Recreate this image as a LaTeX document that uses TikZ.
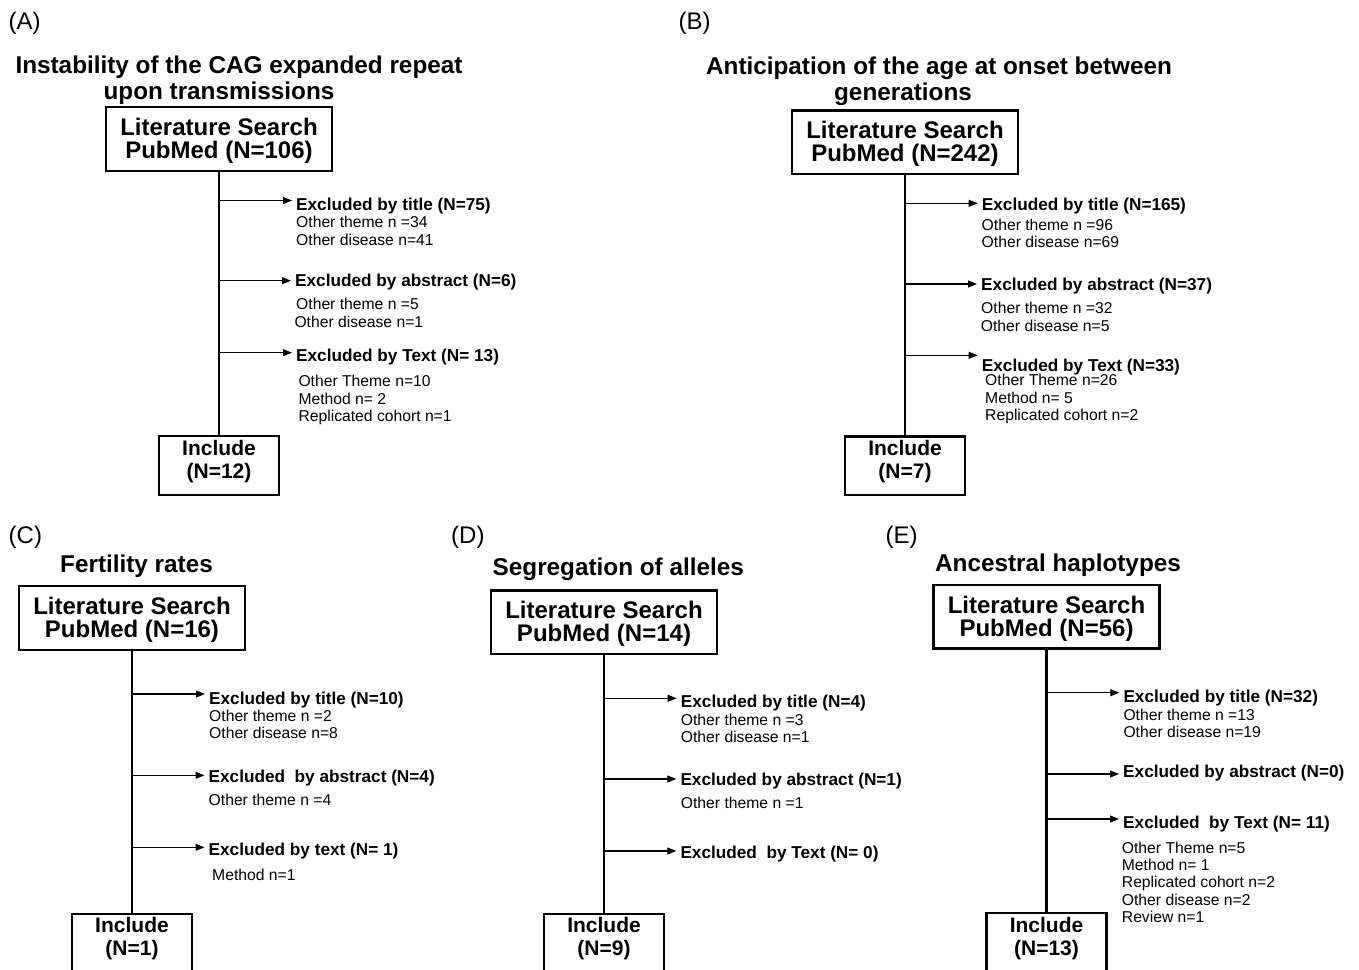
\documentclass[tikz,border=0pt]{standalone}
\usepackage{fontspec}
\setmainfont{Liberation Sans}
\usetikzlibrary{arrows.meta}
\tikzset{
 plabel/.style={anchor=base west, inner sep=0pt, font=\fontsize{24}{24}\selectfont},
 ttl/.style={anchor=base, inner sep=0pt, font=\bfseries\fontsize{24.3}{26}\selectfont},
 boxtxt/.style={anchor=base, inner sep=0pt, font=\bfseries\fontsize{24}{24}\selectfont},
 inctxt/.style={anchor=base, inner sep=0pt, font=\bfseries\fontsize{21}{21}\selectfont},
 hdr/.style={anchor=base west, inner sep=0pt, font=\bfseries\fontsize{17.2}{18}\selectfont},
 sub/.style={anchor=base west, inner sep=0pt, font=\fontsize{15.7}{16}\selectfont},
 litbox/.style={draw, line width=2.4pt, minimum width=226pt, minimum height=63.5pt, inner sep=0pt, anchor=north},
 incbox/.style={draw, line width=2.4pt, minimum width=120pt, minimum height=58.5pt, inner sep=0pt, anchor=north},
 vline/.style={line width=2.4pt},
 arr/.style={line width=1.1pt, -{Triangle[length=9pt,width=7pt]}, shorten >=4pt},
}
\begin{document}
\begin{tikzpicture}[x=1pt,y=-1pt]
\fill[white] (0,0) rectangle (1359,969);
\clip (0,0) rectangle (1359,969);

% ---------------- Panel A ----------------
\node[plabel] (labA) at (8.5,29.4) {(A)};
\node[ttl] (tA1) at (239,73.3) {Instability of the CAG expanded repeat};
\node[ttl] (tA2) at (219,99.3) {upon transmissions};
\node[litbox] (litA) at (219,106) {};
\node[boxtxt] (litA1) at (219,135.3) {Literature Search};
\node[boxtxt] (litA2) at (219,158.5) {PubMed (N=106)};
\node[incbox] (incA) at (219,435) {};
\node[inctxt] (incA1) at (219,455) {Include};
\node[inctxt] (incA2) at (219,478) {(N=12)};
\draw[vline] (litA.south) -- (incA.north);
\node[hdr] (a1h) at (296,210) {Excluded by title (N=75)};
\node[sub] (a1s1) at (296,227.5) {Other theme n =34};
\node[sub] (a1s2) at (296,245) {Other disease n=41};
\node[hdr] (a2h) at (295,286.7) {Excluded by abstract (N=6)};
\node[sub] (a2s1) at (296,309.3) {Other theme n =5};
\node[sub] (a2s2) at (294.3,327.3) {Other disease n=1};
\node[hdr] (a3h) at (296,361.7) {Excluded by Text (N= 13)};
\node[sub] (a3s1) at (298.3,386) {Other Theme n=10};
\node[sub] (a3s2) at (298.3,404) {Method n= 2};
\node[sub] (a3s3) at (298.3,421.7) {Replicated cohort n=1};
\coordinate (a1) at (219,200.5);
\coordinate (a2) at (219,280.7);
\coordinate (a3) at (219,352.7);
\draw[arr] (a1) -- (a1 -| a1h.west);
\draw[arr] (a2) -- (a2 -| a2h.west);
\draw[arr] (a3) -- (a3 -| a3h.west);

% ---------------- Panel B ----------------
\node[plabel] (labB) at (678.5,29.4) {(B)};
\node[ttl] (tB1) at (939,74.3) {Anticipation of the age at onset between};
\node[ttl] (tB2) at (903,100) {generations};
\node[litbox] (litB) at (905,109.3) {};
\node[boxtxt] (litB1) at (905,138.6) {Literature Search};
\node[boxtxt] (litB2) at (905,161.8) {PubMed (N=242)};
\node[incbox] (incB) at (905,435.3) {};
\node[inctxt] (incB1) at (905,455.5) {Include};
\node[inctxt] (incB2) at (905,478.5) {(N=7)};
\draw[vline] (litB.south) -- (incB.north);
\node[hdr] (b1h) at (981.7,210.7) {Excluded by title (N=165)};
\node[sub] (b1s1) at (981.5,230) {Other theme n =96};
\node[sub] (b1s2) at (981.5,247.7) {Other disease n=69};
\node[hdr] (b2h) at (981,290) {Excluded by abstract (N=37)};
\node[sub] (b2s1) at (981,313.3) {Other theme n =32};
\node[sub] (b2s2) at (980.7,331.7) {Other disease n=5};
\node[hdr] (b3h) at (981.7,371.7) {Excluded by Text (N=33)};
\node[sub] (b3s1) at (985,385) {Other Theme n=26};
\node[sub] (b3s2) at (985,403.3) {Method n= 5};
\node[sub] (b3s3) at (985,420) {Replicated cohort n=2};
\coordinate (b1) at (905,203.3);
\coordinate (b2) at (905,284);
\coordinate (b3) at (905,355.3);
\draw[arr] (b1) -- (b1 -| b1h.west);
\draw[arr] (b2) -- (b2 -| b2h.west);
\draw[arr] (b3) -- (b3 -| b3h.west);

% ---------------- Panel C ----------------
\node[plabel] (labC) at (8.5,543.3) {(C)};
\node[ttl] (tC) at (136.5,572.7) {Fertility rates};
\node[litbox] (litC) at (132,585) {};
\node[boxtxt] (litC1) at (132,614.3) {Literature Search};
\node[boxtxt] (litC2) at (132,637.5) {PubMed (N=16)};
\node[incbox] (incC) at (132,912.7) {};
\node[inctxt] (incC1) at (132,932.7) {Include};
\node[inctxt] (incC2) at (132,955.7) {(N=1)};
\draw[vline] (litC.south) -- (incC.north);
\node[hdr] (c1h) at (209,704) {Excluded by title (N=10)};
\node[sub] (c1s1) at (209,721) {Other theme n =2};
\node[sub] (c1s2) at (209,738) {Other disease n=8};
\node[hdr] (c2h) at (208.5,782.7) {Excluded~ by abstract (N=4)};
\node[sub] (c2s1) at (208.5,805.7) {Other theme n =4};
\node[hdr] (c3h) at (208.5,855) {Excluded by text (N= 1)};
\node[sub] (c3s1) at (212,880.7) {Method n=1};
\coordinate (c1) at (132,694);
\coordinate (c2) at (132,775.3);
\coordinate (c3) at (132,847.3);
\draw[arr] (c1) -- (c1 -| c1h.west);
\draw[arr] (c2) -- (c2 -| c2h.west);
\draw[arr] (c3) -- (c3 -| c3h.west);

% ---------------- Panel D ----------------
\node[plabel] (labD) at (451,543.3) {(D)};
\node[ttl] (tD) at (618.3,575) {Segregation of alleles};
\node[litbox] (litD) at (604,589.3) {};
\node[boxtxt] (litD1) at (604,618.6) {Literature Search};
\node[boxtxt] (litD2) at (604,641.8) {PubMed (N=14)};
\node[incbox] (incD) at (604,912.7) {};
\node[inctxt] (incD1) at (604,932.7) {Include};
\node[inctxt] (incD2) at (604,955.7) {(N=9)};
\draw[vline] (litD.south) -- (incD.north);
\node[hdr] (d1h) at (680.7,707.3) {Excluded by title (N=4)};
\node[sub] (d1s1) at (680.7,725) {Other theme n =3};
\node[sub] (d1s2) at (680.7,742.3) {Other disease n=1};
\node[hdr] (d2h) at (680.3,785.7) {Excluded by abstract (N=1)};
\node[sub] (d2s1) at (680.7,808.3) {Other theme n =1};
\node[hdr] (d3h) at (680.3,858.3) {Excluded~ by Text (N= 0)};
\coordinate (d1) at (604,698.3);
\coordinate (d2) at (604,779);
\coordinate (d3) at (604,851);
\draw[arr] (d1) -- (d1 -| d1h.west);
\draw[arr] (d2) -- (d2 -| d2h.west);
\draw[arr] (d3) -- (d3 -| d3h.west);

% ---------------- Panel E ----------------
\node[plabel] (labE) at (885.3,543.3) {(E)};
\node[ttl] (tE) at (1058,571.7) {Ancestral haplotypes};
\node[litbox] (litE) at (1046.5,583.7) {};
\node[boxtxt] (litE1) at (1046.5,613) {Literature Search};
\node[boxtxt] (litE2) at (1046.5,636.2) {PubMed (N=56)};
\node[incbox] (incE) at (1046.5,912) {};
\node[inctxt] (incE1) at (1046.5,932.7) {Include};
\node[inctxt] (incE2) at (1046.5,955.5) {(N=13)};
\draw[vline] (litE.south) -- (incE.north);
\node[hdr] (e1h) at (1123.3,702.7) {Excluded by title (N=32)};
\node[sub] (e1s1) at (1123.3,720) {Other theme n =13};
\node[sub] (e1s2) at (1123.3,737.3) {Other disease n=19};
\node[hdr] (e2h) at (1123,777.3) {Excluded by abstract (N=0)};
\node[hdr] (e3h) at (1123,828.3) {Excluded~ by Text (N= 11)};
\node[sub] (e3s1) at (1121.7,853.7) {Other Theme n=5};
\node[sub] (e3s2) at (1121.7,870.7) {Method n= 1};
\node[sub] (e3s3) at (1121.7,887.7) {Replicated cohort n=2};
\node[sub] (e3s4) at (1121.7,905) {Other disease n=2};
\node[sub] (e3s5) at (1121.7,922.7) {Review n=1};
\coordinate (e1) at (1046.5,692.7);
\coordinate (e2) at (1046.5,774);
\coordinate (e3) at (1046.5,819);
\draw[arr] (e1) -- (e1 -| e1h.west);
\draw[arr] (e2) -- (e2 -| e2h.west);
\draw[arr] (e3) -- (e3 -| e3h.west);
\end{tikzpicture}
\end{document}
